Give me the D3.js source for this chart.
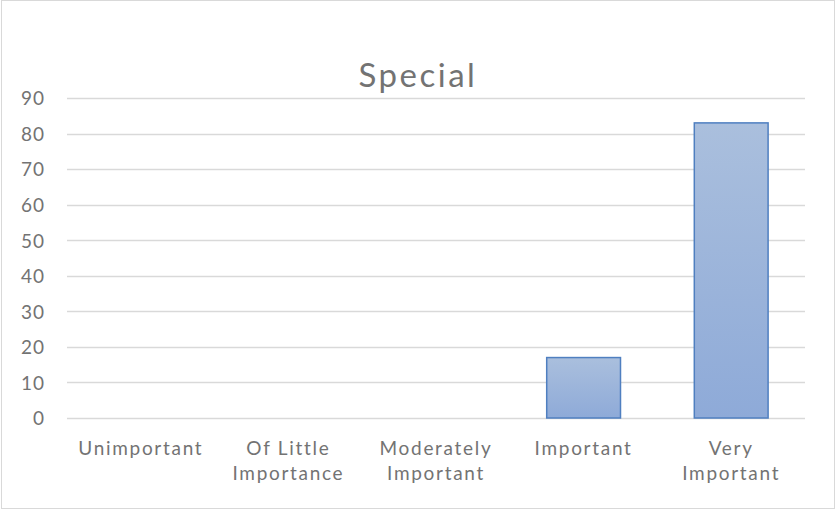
<!DOCTYPE html>
<html>
<head>
<meta charset="utf-8">
<script src="https://cdn.jsdelivr.net/npm/d3@7"></script>
<style>
  html, body { margin: 0; padding: 0; background: #fff; }
  svg { display: block; }
  text { font-family: Lato, "Open Sans", sans-serif; fill: #737373; }
</style>
</head>
<body>
<svg id="chart" width="836" height="509"></svg>
<script>
const categories = [["Unimportant"], ["Of Little", "Importance"], ["Moderately", "Important"], ["Important"], ["Very", "Important"]];
const categoryKeys = ["Unimportant", "Of Little Importance", "Moderately Important", "Important", "Very Important"];
const values = [0, 0, 0, 17, 83];
const yTicks = [0, 10, 20, 30, 40, 50, 60, 70, 80, 90];
const title = "Special";

const W = 836, H = 509;
const margin = { left: 67, right: 31, top: 98, bottom: 91 };
const svg = d3.select("#chart");

// outer chart frame
svg.append("rect")
  .attr("x", 1.5).attr("y", 0.5)
  .attr("width", W - 3).attr("height", H - 1)
  .attr("fill", "#fff").attr("stroke", "#d9d9d9").attr("stroke-width", 1);

const x = d3.scaleBand()
  .domain(categoryKeys)
  .range([margin.left, W - margin.right])
  .paddingInner(0.5).paddingOuter(0.25);

const y = d3.scaleLinear()
  .domain([0, 90])
  .range([H - margin.bottom, margin.top]);

// bar gradient
const defs = svg.append("defs");
const grad = defs.append("linearGradient")
  .attr("id", "barGrad").attr("x1", 0).attr("y1", 0).attr("x2", 0).attr("y2", 1);
grad.append("stop").attr("offset", "0%").attr("stop-color", "#aabfdd");
grad.append("stop").attr("offset", "100%").attr("stop-color", "#8eaad8");

// gridlines
svg.append("g")
  .selectAll("line")
  .data(yTicks)
  .join("line")
  .attr("x1", margin.left).attr("x2", W - margin.right)
  .attr("y1", d => Math.round(y(d)) + 0.5).attr("y2", d => Math.round(y(d)) + 0.5)
  .attr("stroke", "#d9d9d9").attr("stroke-width", 1.5);

// y axis labels
const yAxis = d3.axisLeft(y).tickValues(yTicks).tickSize(0).tickPadding(0);
const yg = svg.append("g").attr("transform", `translate(${margin.left - 22},0)`).call(yAxis);
yg.select(".domain").remove();
yg.selectAll("text")
  .style("font-size", "19px").style("letter-spacing", "1px")
  .attr("font-family", null)
  .attr("dy", "0.36em");

// bars
svg.append("g")
  .selectAll("rect")
  .data(values.map((v, i) => ({ k: categoryKeys[i], v })))
  .join("rect")
  .filter(d => d.v > 0)
  .attr("x", d => x(d.k))
  .attr("width", x.bandwidth())
  .attr("y", d => y(d.v))
  .attr("height", d => y(0) - y(d.v))
  .attr("fill", "url(#barGrad)")
  .attr("stroke", "#4f7fc0").attr("stroke-width", 1.5);

// x axis labels
const xg = svg.append("g");
categories.forEach((lines, i) => {
  const cx = x(categoryKeys[i]) + x.bandwidth() / 2;
  const t = xg.append("text")
    .attr("x", cx).attr("y", 455)
    .attr("text-anchor", "middle")
    .style("font-size", "19px").style("letter-spacing", "1.7px");
  lines.forEach((ln, j) => {
    t.append("tspan").attr("x", cx).attr("dy", j === 0 ? 0 : 25).text(ln);
  });
});

// title
svg.append("text")
  .attr("x", W / 2)
  .attr("y", 87)
  .attr("text-anchor", "middle")
  .style("font-size", "33px").style("letter-spacing", "2.5px")
  .text(title);
</script>
</body>
</html>
